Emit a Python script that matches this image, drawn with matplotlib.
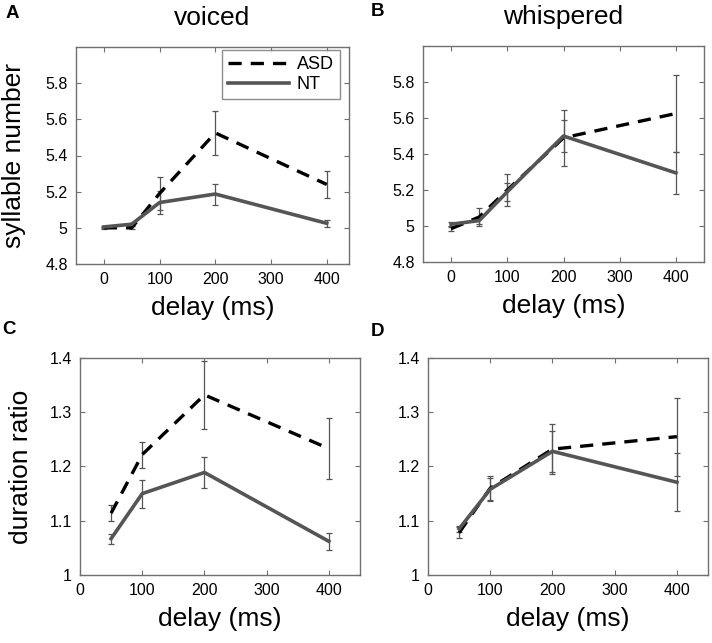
import matplotlib
matplotlib.use("Agg")
import matplotlib.pyplot as plt
import numpy as np

plt.rcParams['font.family'] = ['Liberation Sans', 'DejaVu Sans']

# ---- data ----
delay_top = [0, 50, 100, 200, 400]
delay_bot = [50, 100, 200, 400]

# A: voiced, syllable number
voiced_syl_asd = [5.00, 5.00, 5.19, 5.525, 5.24]
voiced_syl_asd_err = [0.005, 0.008, 0.09, 0.12, 0.075]
voiced_syl_nt = [5.005, 5.02, 5.14, 5.187, 5.025]
voiced_syl_nt_err = [0.005, 0.008, 0.065, 0.058, 0.018]

# B: whispered, syllable number
whisp_syl_asd = [4.985, 5.05, 5.20, 5.49, 5.625]
whisp_syl_asd_err = [0.015, 0.05, 0.088, 0.155, 0.215]
whisp_syl_nt = [5.01, 5.03, 5.19, 5.50, 5.295]
whisp_syl_nt_err = [0.015, 0.02, 0.05, 0.09, 0.115]

# C: voiced, duration ratio
voiced_dur_asd = [1.114, 1.222, 1.332, 1.233]
voiced_dur_asd_err = [0.015, 0.024, 0.062, 0.056]
voiced_dur_nt = [1.067, 1.150, 1.189, 1.062]
voiced_dur_nt_err = [0.009, 0.026, 0.028, 0.016]

# D: whispered, duration ratio
whisp_dur_asd = [1.078, 1.160, 1.232, 1.255]
whisp_dur_asd_err = [0.010, 0.023, 0.046, 0.072]
whisp_dur_nt = [1.085, 1.158, 1.228, 1.171]
whisp_dur_nt_err = [0.006, 0.020, 0.038, 0.053]

group_labels = ["ASD", "NT"]
col_titles = ["voiced", "whispered"]
panel_letters = ["A", "B", "C", "D"]

syl_ticks = [4.8, 5.0, 5.2, 5.4, 5.6, 5.8]
syl_ticklabels = ["4.8", "5", "5.2", "5.4", "5.6", "5.8"]
dur_ticks = [1.0, 1.1, 1.2, 1.3, 1.4]
dur_ticklabels = ["1", "1.1", "1.2", "1.3", "1.4"]
top_xticks = [0, 100, 200, 300, 400]
bot_xticks = [0, 100, 200, 300, 400]

# ---- figure ----
W, H = 712, 643
fig = plt.figure(figsize=(W / 100, H / 100), dpi=100)

def rect(l, t, r, b):
    return [l / W, 1 - b / H, (r - l) / W, (b - t) / H]

axA = fig.add_axes(rect(76, 47, 349, 264))
axB = fig.add_axes(rect(423, 46, 704, 262))
axC = fig.add_axes(rect(80, 358, 360, 575))
axD = fig.add_axes(rect(428, 358, 708, 575))

NT_COL = '#555555'
ERR_COL = '#555555'
SPINE_COL = '#707070'
ASD_LW = 2.4

def draw(ax, x, asd, asd_e, nt, nt_e):
    ax.errorbar(x, asd, yerr=asd_e, fmt='none', ecolor=ERR_COL, elinewidth=0.9,
                capsize=2.2, capthick=0.9, zorder=2)
    ax.errorbar(x, nt, yerr=nt_e, fmt='none', ecolor=ERR_COL, elinewidth=0.9,
                capsize=2.2, capthick=0.9, zorder=2)
    l1, = ax.plot(x, asd, color='black', lw=ASD_LW, zorder=3, label=group_labels[0])
    l1.set_dashes((9.5 / ASD_LW, 6.5 / ASD_LW))
    l2, = ax.plot(x, nt, color=NT_COL, lw=2.6, zorder=4, label=group_labels[1])
    return l1, l2

def style(ax, xlim, xticks, ylim, yticks, yticklabels):
    ax.set_xlim(*xlim)
    ax.set_ylim(*ylim)
    ax.set_xticks(xticks)
    ax.set_xticklabels([str(t) for t in xticks])
    ax.set_yticks(yticks)
    ax.set_yticklabels(yticklabels)
    ax.tick_params(direction='in', top=True, right=True, length=3.5,
                   width=0.8, color=SPINE_COL, labelsize=11.5, pad=6)
    for s in ax.spines.values():
        s.set_color(SPINE_COL)
        s.set_linewidth(1.0)
    ax.set_xlabel("delay (ms)", fontsize=19, labelpad=6)

l1, l2 = draw(axA, delay_top, voiced_syl_asd, voiced_syl_asd_err, voiced_syl_nt, voiced_syl_nt_err)
draw(axB, delay_top, whisp_syl_asd, whisp_syl_asd_err, whisp_syl_nt, whisp_syl_nt_err)
draw(axC, delay_bot, voiced_dur_asd, voiced_dur_asd_err, voiced_dur_nt, voiced_dur_nt_err)
draw(axD, delay_bot, whisp_dur_asd, whisp_dur_asd_err, whisp_dur_nt, whisp_dur_nt_err)

style(axA, (-50, 440), top_xticks, (4.8, 6.0), syl_ticks, syl_ticklabels)
style(axB, (-50, 450), top_xticks, (4.8, 6.0), syl_ticks, syl_ticklabels)
style(axC, (0, 450), bot_xticks, (1.0, 1.4), dur_ticks, dur_ticklabels)
style(axD, (0, 450), bot_xticks, (1.0, 1.4), dur_ticks, dur_ticklabels)

axA.set_ylabel("syllable number", fontsize=19, labelpad=14)
axC.set_ylabel("duration ratio", fontsize=19, labelpad=12)

axA.set_title(col_titles[0], fontsize=19, pad=16)
axB.set_title(col_titles[1], fontsize=19, pad=16)

leg = axA.legend(handles=[l1, l2], loc='upper right', bbox_to_anchor=(0.967, 0.986),
                 borderaxespad=0, fontsize=13, frameon=True, fancybox=False,
                 handlelength=3.4, handletextpad=0.4, borderpad=0.35,
                 labelspacing=0.15)
leg.get_frame().set_edgecolor(SPINE_COL)
leg.get_frame().set_linewidth(1.0)

for letter, (x, y) in zip(panel_letters, [(12, 13), (378, 11), (9, 330), (378, 331)]):
    fig.text(x / W, 1 - y / H, letter, fontsize=13.5, fontweight='bold',
             ha='center', va='center')

fig.savefig("out.png", dpi=100)
